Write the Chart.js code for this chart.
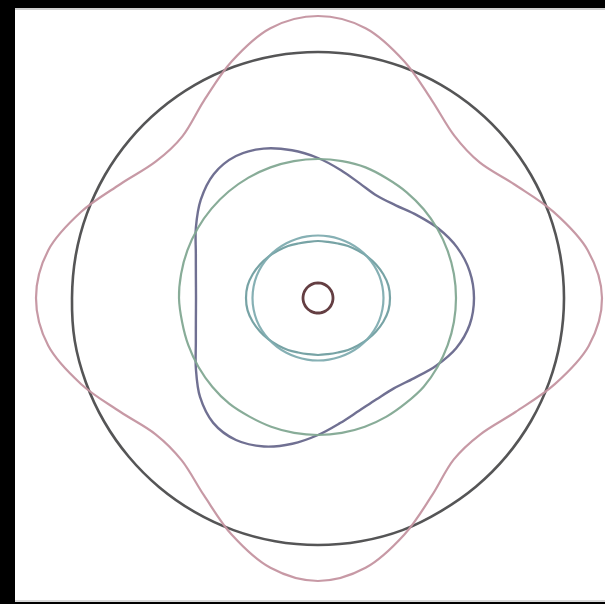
<!DOCTYPE html>
<html>
<head>
<meta charset="utf-8">
<script src="https://cdn.jsdelivr.net/npm/chart.js@4.4.1/dist/chart.umd.min.js"></script>
<style>
  html, body { margin: 0; padding: 0; background: #000; overflow: hidden; width: 605px; height: 604px; }
  #panel { position: absolute; left: 15px; top: 8px; width: 590px; height: 594px; background: #fff;
           border-top: 2px solid #cfcfcf; border-bottom: 2px solid #d8d8d8; box-sizing: border-box; }
  #plot { position: absolute; left: 18px; top: -2px; }
</style>
</head>
<body>
<div id="panel"></div>
<canvas id="plot" width="600" height="600"></canvas>
<script>
// Polar sample angles, clockwise from the top, 10 degree steps
const angles = ['0°','10°','20°','30°','40°','50°','60°','70°','80°','90°','100°','110°',
                '120°','130°','140°','150°','160°','170°','180°','190°','200°','210°','220°','230°',
                '240°','250°','260°','270°','280°','290°','300°','310°','320°','330°','340°','350°'];

// Four-lobed outer mode
const outerWave = [282,274,252,228,212,211,227,251,274,
                   284,275,252,228,212,211,228,252,274,
                   283,274,252,228,212,212,228,252,274,
                   282,274,252,228,212,211,228,252,274];

// Reference ring
const ring = [246,246,246,246,246,246,246,246,246,
              246,246,246,246,246,246,246,247,247,
              247,247,247,247,247,247,247,247,247,
              246,246,246,246,246,246,246,246,246];

// Three-lobed mode
const triLobe = [140,130,122,118,121,129,139,148,154,
                 156,154,147,136,125,118,117,120,127,
                 137,148,158,164,163,154,141,130,124,
                 122,124,130,141,153,162,164,159,150];

// Middle ring
const midRing = [139,139,139,138,138,138,138,138,138,
                 138,138,138,138,138,137,137,137,137,
                 137,137,137,137,138,138,138,138,138,
                 139,139,139,139,139,139,139,139,139];

// Inner pair: wide oval and near-round oval
const ovalWide = [57,57,58,60,62,64.5,67,69.5,71.5,
                  72,71.5,69.5,67,64.5,62,60,58,57,
                  57,57,58,60,62,64.5,67,69.5,71.5,
                  72,71.5,69.5,67,64.5,62,60,58,57];

const ovalRound = [62.5,62.6,62.8,63.2,63.7,64.3,64.8,65.2,65.4,
                   65.5,65.4,65.2,64.8,64.3,63.7,63.2,62.8,62.6,
                   62.5,62.6,62.8,63.2,63.7,64.3,64.8,65.2,65.4,
                   65.5,65.4,65.2,64.8,64.3,63.7,63.2,62.8,62.6];

// Central core
const core = [15,15,15,15,15,15,15,15,15,
              15,15,15,15,15,15,15,15,15,
              15,15,15,15,15,15,15,15,15,
              15,15,15,15,15,15,15,15,15];

function curve(values, color, width) {
  return {
    data: values,
    borderColor: color,
    borderWidth: width,
    backgroundColor: 'transparent',
    fill: false,
    pointRadius: 0,
    pointHoverRadius: 0,
    tension: 0.33
  };
}

new Chart(document.getElementById('plot'), {
  type: 'radar',
  data: {
    labels: angles,
    datasets: [
      curve(outerWave, 'rgba(196,148,160,0.95)', 2.2),
      curve(ring, 'rgba(70,70,72,0.92)', 2.6),
      curve(midRing, 'rgba(130,168,146,0.95)', 2.2),
      curve(triLobe, 'rgba(104,104,140,0.95)', 2.4),
      curve(ovalRound, 'rgba(128,172,176,0.95)', 2.2),
      curve(ovalWide, 'rgba(112,158,160,0.95)', 2.2),
      curve(core, 'rgba(100,62,66,1)', 2.8)
    ]
  },
  options: {
    responsive: false,
    animation: false,
    events: [],
    plugins: { legend: { display: false }, tooltip: { enabled: false } },
    scales: {
      r: {
        min: 0,
        max: 300,
        ticks: { display: false },
        grid: { display: false },
        angleLines: { display: false },
        pointLabels: { display: false }
      }
    }
  }
});
</script>
</body>
</html>
